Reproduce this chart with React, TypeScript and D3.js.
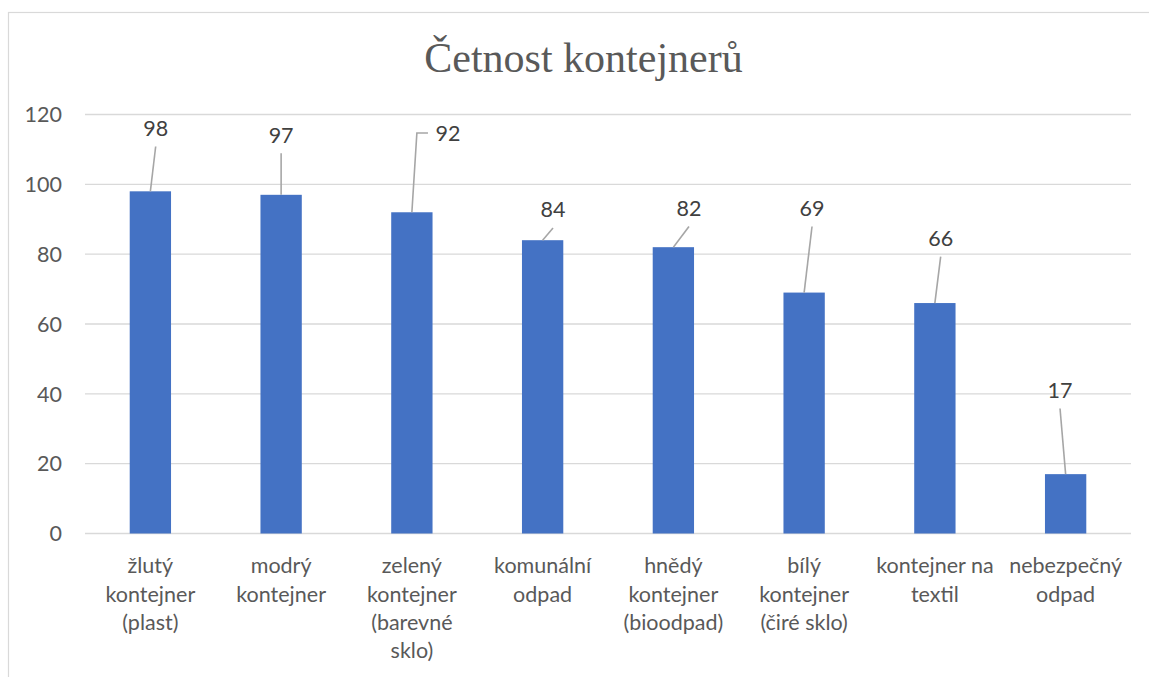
import React from "react";
import * as d3 from "d3";

const title = "Četnost kontejnerů";
const categories = [
  "žlutý\nkontejner\n(plast)",
  "modrý\nkontejner",
  "zelený\nkontejner\n(barevné\nsklo)",
  "komunální\nodpad",
  "hnědý\nkontejner\n(bioodpad)",
  "bílý\nkontejner\n(čiré sklo)",
  "kontejner na\ntextil",
  "nebezpečný\nodpad",
];
const values = [98, 97, 92, 84, 82, 69, 66, 17];
const yTicks = [0, 20, 40, 60, 80, 100, 120];

// layout (pixels)
const W = 1149;
const H = 677;
const plot = { left: 85, right: 1131, top: 114.5, bottom: 533.5 };
const labelOffsets: [number, number][] = [
  [5.3, -63.3],
  [0, -60],
  [36.1, -79.3],
  [10.4, -30.7],
  [15.6, -39.2],
  [7.9, -84.6],
  [5.8, -65],
  [-5.6, -84.1],
];

const FONT = "Lato, Carlito, 'Open Sans', sans-serif";

export default function App() {
  const x = d3
    .scaleBand<string>()
    .domain(categories)
    .range([plot.left, plot.right])
    .paddingInner(0.684)
    .paddingOuter(0.342);
  const y = d3.scaleLinear().domain([0, 120]).range([plot.bottom, plot.top]);

  return (
    <svg
      width={W}
      height={H}
      style={{ position: "absolute", left: 0, top: 0, background: "#fff" }}
    >
      <rect x={0} y={0} width={W} height={H} fill="#fff" />
      <rect
        x={8.5}
        y={12.5}
        width={1160}
        height={700}
        fill="#fff"
        stroke="#d9d9d9"
        strokeWidth={1.2}
      />
      <text
        x={583.5}
        y={71.7}
        textAnchor="middle"
        fontFamily="'Liberation Serif', 'Times New Roman', serif"
        fontSize={42}
        fill="#595959"
      >
        {title}
      </text>

      {yTicks.map((t) => (
        <g key={t}>
          <line
            x1={plot.left}
            x2={plot.right}
            y1={y(t)}
            y2={y(t)}
            stroke="#d9d9d9"
            strokeWidth={1.4}
          />
          <text
            x={62}
            y={y(t)}
            dy="0.36em"
            textAnchor="end"
            fontFamily={FONT}
            fontSize={21.5}
            fill="#595959"
          >
            {t}
          </text>
        </g>
      ))}

      {values.map((v, i) => {
        const c = categories[i];
        const bx = x(c)!;
        const bw = x.bandwidth();
        return (
          <rect key={c} x={bx} y={y(v)} width={bw} height={y(0) - y(v)} fill="#4472C4" />
        );
      })}

      {values.map((v, i) => {
        const c = categories[i];
        const cx = x(c)! + x.bandwidth() / 2;
        const top = y(v);
        const [dx, dy] = labelOffsets[i];
        const lx = cx + dx;
        const ly = top + dy;
        const elbow = Math.abs(dx) > 25;
        const path = elbow
          ? `M${lx - 20},${ly} L${cx + 5},${ly} L${cx},${top}`
          : `M${lx},${ly + 18.5} L${cx},${top}`;
        return (
          <g key={"lbl" + i}>
            <path d={path} fill="none" stroke="#a6a6a6" strokeWidth={1.6} />
            <text
              x={lx}
              y={ly}
              dy="0.36em"
              textAnchor="middle"
              fontFamily={FONT}
              fontSize={21.5}
              fill="#404040"
            >
              {v}
            </text>
          </g>
        );
      })}

      {categories.map((c) => {
        const cx = x(c)! + x.bandwidth() / 2;
        return (
          <text
            key={"cat" + c}
            textAnchor="middle"
            fontFamily={FONT}
            fontSize={21.5}
            fill="#595959"
          >
            {c.split("\n").map((line, j) => (
              <tspan key={j} x={cx} y={573.4 + j * 28.3}>
                {line}
              </tspan>
            ))}
          </text>
        );
      })}
    </svg>
  );
}
